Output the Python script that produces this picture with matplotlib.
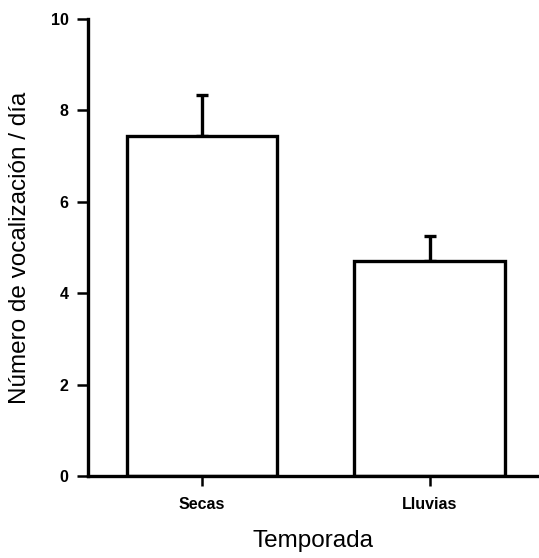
import matplotlib
matplotlib.use('Agg')
import matplotlib.pyplot as plt
import numpy as np

plt.rcParams['font.family'] = ['Liberation Sans', 'DejaVu Sans']

# data
categories = ['Secas', 'Lluvias']
means = [7.45, 4.70]
errors_up = [0.88, 0.56]
y_ticks = [0, 2, 4, 6, 8, 10]

fig = plt.figure(figsize=(5.39, 5.58), dpi=100)
ax = fig.add_axes([0.163, 0.147, 0.837, 0.819])

x = np.arange(len(categories))
lw = 2.4
ax.bar(x, means, width=0.66, color='white', edgecolor='black', linewidth=lw, zorder=2)
ax.errorbar(x, means, yerr=[np.zeros(len(means)), errors_up], fmt='none',
            ecolor='black', elinewidth=lw, capsize=4, capthick=lw, zorder=1)

ax.set_xlim(-0.5, 1.48)
ax.set_ylim(0, 10)
ax.set_yticks(y_ticks)
ax.set_yticklabels([str(t) for t in y_ticks], fontweight='bold')
ax.set_xticks(x)
ax.set_xticklabels(categories, fontweight='bold')

for s in ['top', 'right']:
    ax.spines[s].set_visible(False)
for s in ['left', 'bottom']:
    ax.spines[s].set_linewidth(lw)
ax.spines['left'].set_zorder(3)

ax.tick_params(axis='y', direction='out', length=8, width=1.8, pad=6, labelsize=11.5)
ax.tick_params(axis='x', direction='out', length=7, width=1.8, pad=8, labelsize=11.5)

ax.set_ylabel('Número de vocalización / día', fontsize=17.5, labelpad=14)
ax.set_xlabel('Temporada', fontsize=17.5, labelpad=13)

fig.savefig('out.png', dpi=100)
